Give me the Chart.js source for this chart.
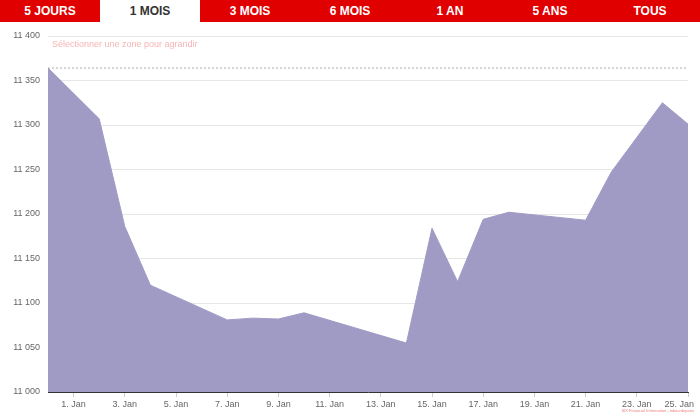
<!DOCTYPE html>
<html>
<head>
<meta charset="utf-8">
<script src="https://cdn.jsdelivr.net/npm/chart.js@4"></script>
<style>
  body { margin: 0; width: 700px; height: 414px; background: #fff; font-family: "Liberation Sans", Arial, sans-serif; overflow: hidden; }
  #tabs { position: absolute; top: 0; left: 0; width: 700px; height: 22px; display: flex; background: #e10000; z-index: 2; }
  #tabs div { flex: 1; color: #fff; font-weight: bold; font-size: 12px; text-align: center; line-height: 22px; }
  #tabs div.on { background: #fff; color: #333; }
  #wrap { position: absolute; top: 0; left: 0; width: 700px; height: 414px; }
  #hint { position: absolute; left: 52px; top: 39px; font-size: 9px; color: #f7b5b5; }
  #credit { position: absolute; right: 6px; bottom: 1px; font-size: 4px; color: #f08080; }
</style>
</head>
<body>
<div id="tabs"></div>
<div id="wrap"><canvas id="priceChart"></canvas></div>
<div id="hint">Sélectionner une zone pour agrandir</div>
<div id="credit">SIX Financial Information - labourdeparis</div>
<script>
const tabLabels = ['5 JOURS', '1 MOIS', '3 MOIS', '6 MOIS', '1 AN', '5 ANS', 'TOUS'];
const days = [0, 2, 3, 4, 7, 8, 9, 10, 14, 15, 16, 17, 18, 21, 22, 24, 25];
const prices = [11364, 11307, 11186, 11120, 11081, 11083, 11082, 11089, 11055, 11184, 11124, 11194, 11202, 11193, 11247, 11325, 11301];
const refLevel = 11364;
const xTicks = [1, 3, 5, 7, 9, 11, 13, 15, 17, 19, 21, 23, 25];
const yTicks = [11000, 11050, 11100, 11150, 11200, 11250, 11300, 11350, 11400];

const tabs = document.getElementById('tabs');
tabLabels.forEach((t, i) => {
    const d = document.createElement('div');
    d.textContent = t;
    if (i === 1) d.className = 'on';
    tabs.appendChild(d);
});

const ctx = document.getElementById('priceChart');
new Chart(ctx, {
    type: 'line',
    data: {
        datasets: [{
            data: days.map((d, i) => ({ x: d, y: prices[i] })),
            borderColor: '#a09bc5',
            backgroundColor: '#a09bc5',
            borderWidth: 1,
            pointRadius: 0,
            tension: 0,
            fill: 'start'
        }, {
            data: [{ x: days[0], y: refLevel }, { x: days[days.length - 1], y: refLevel }],
            borderColor: '#999',
            borderWidth: 0.8,
            borderDash: [2, 2],
            pointRadius: 0,
            fill: false
        }]
    },
    options: {
        responsive: true,
        maintainAspectRatio: false,
        animation: false,
        layout: { padding: { top: 36, right: 12, left: 0, bottom: 0 } },
        plugins: { legend: { display: false }, tooltip: { enabled: false } },
        scales: {
            x: {
                type: 'linear',
                min: days[0],
                max: days[days.length - 1],
                afterBuildTicks: s => { s.ticks = xTicks.map(v => ({ value: v })); },
                afterFit: s => { s.height = 22; s.paddingRight = 0; s.paddingLeft = 0; },
                ticks: {
                    // last label is pushed left so it stays inside the canvas
                    callback: v => v === xTicks[xTicks.length - 1] ? v + '. Jan' + '\u00a0'.repeat(7) : v + '. Jan',
                    color: '#666',
                    font: { size: 9 },
                    maxRotation: 0,
                    autoSkip: false,
                    padding: 2
                },
                grid: { drawOnChartArea: false, tickLength: 5, color: '#ccd' },
                border: { color: '#333', width: 1 }
            },
            y: {
                min: 11000,
                max: 11400,
                afterBuildTicks: s => { s.ticks = yTicks.map(v => ({ value: v })); },
                afterFit: s => { s.width = 48; },
                ticks: {
                    callback: v => String(v).replace(/\B(?=(\d{3})+(?!\d))/g, ' '),
                    color: '#666',
                    font: { size: 9 },
                    padding: 8
                },
                grid: { color: '#e6e6e6', drawTicks: false },
                border: { display: false }
            }
        }
    }
});
</script>
</body>
</html>
